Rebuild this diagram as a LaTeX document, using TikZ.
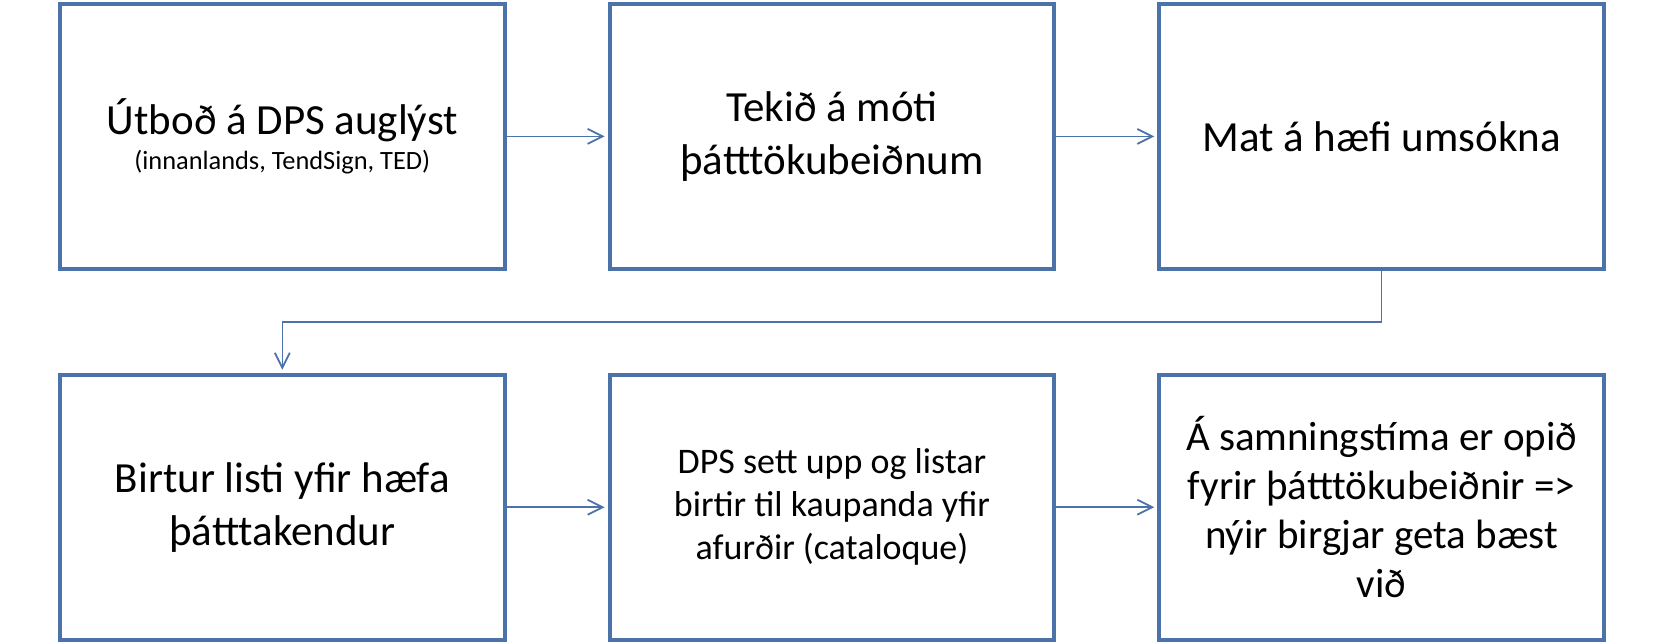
\documentclass[tikz,border=0pt]{standalone}
\usepackage{fontspec}
\setmainfont{Carlito}
\usepackage{tikz}
\usetikzlibrary{arrows.meta,positioning,calc}

\definecolor{boxblue}{RGB}{76,114,170}

\begin{document}
\begin{tikzpicture}[
    node distance=51pt and 50.5pt,
    box/.style={rectangle, draw=boxblue, fill=white, line width=2pt, align=center, minimum height=132.5pt, minimum width=222.5pt, inner sep=0pt, font=\fontsize{21.5}{26.5}\selectfont},
    arr/.style={-{Straight Barb[length=7.5pt,width=7.5pt,line width=0.9pt]}, line width=0.75pt, draw=boxblue, shorten >=1.5pt}
]
    % first row
    \node [box] (n1) {Útboð á DPS auglýst\\[-9pt]{\fontsize{13.2}{15}\selectfont (innanlands, TendSign, TED)}};
    \node [box, right=of n1] (n2) {Tekið á móti\\þátttökubeiðnum};
    \node [box, right=of n2] (n3) {Mat á hæfi umsókna};
    % second row
    \node [box, below=of n1] (n4) {Birtur listi yfir hæfa\\þátttakendur};
    \node [box, right=of n4, font=\fontsize{18}{21.5}\selectfont] (n5) {DPS sett upp og listar\\birtir til kaupanda yfir\\afurðir (cataloque)};
    \node [box, right=of n5, font=\fontsize{20.5}{24.5}\selectfont] (n6) {Á samningstíma er opið\\fyrir þátttökubeiðnir =>\\nýir birgjar geta bæst\\við};

    \draw [arr] (n1) -- (n2);
    \draw [arr] (n2) -- (n3);
    \draw [arr] (n3.south) -- ($(n3.south)!0.5!(n3.south |- n4.north)$) -| (n4.north);
    \draw [arr] (n4) -- (n5);
    \draw [arr] (n5) -- (n6);

    \useasboundingbox ($(n1.north west)+(-29pt,1pt)$) rectangle ($(n6.south east)+(29.5pt,-1pt)$);
\end{tikzpicture}
\end{document}
